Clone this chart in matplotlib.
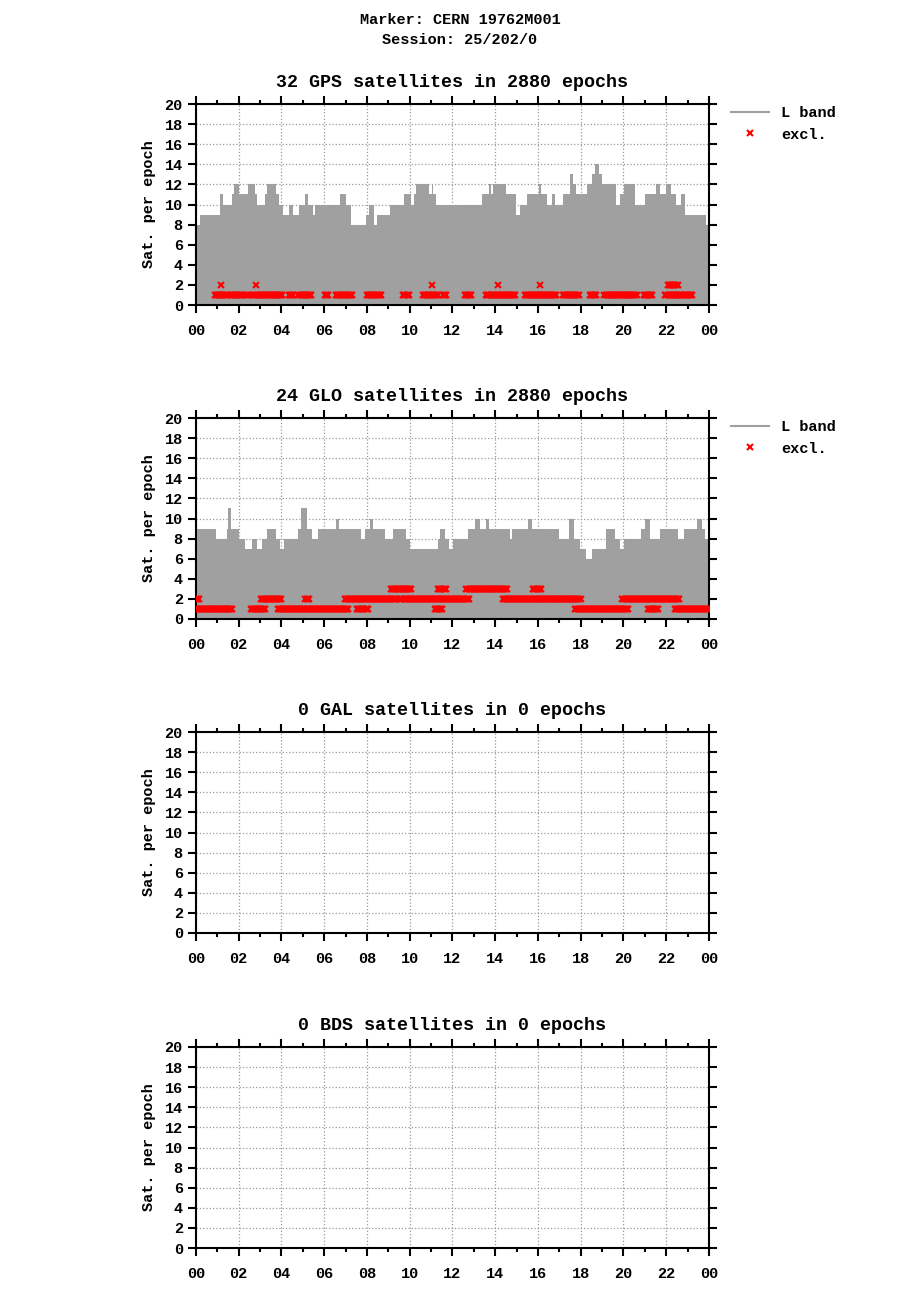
import numpy as np
import matplotlib.pyplot as plt

# GPS: satellites per epoch, step edges (hours) and values
gps_edges = [0, 0.21, 1.14, 1.27, 1.70, 1.79, 2.03, 2.41, 2.77, 2.87, 3.25, 3.31, 3.76, 3.90, 4.09,
             4.33, 4.52, 4.83, 5.12, 5.25, 5.47, 5.55, 6.72, 7.04, 7.26, 7.94, 8.08, 8.35, 8.49,
             9.06, 9.71, 10.06, 10.19, 10.29, 10.89, 11.03, 11.11, 11.22, 13.38, 13.71, 13.79,
             13.91, 14.50, 14.96, 15.15, 15.48, 16.05, 16.12, 16.42, 16.66, 16.80, 17.18, 17.50,
             17.64, 17.78, 18.30, 18.53, 18.67, 18.86, 19.00, 19.65, 19.84, 20.03, 20.55, 21.01,
             21.54, 21.71, 22.00, 22.23, 22.47, 22.71, 22.90, 23.88, 24]
gps_count = [8, 9, 11, 10, 11, 12, 11, 12, 11, 10, 11, 12, 11, 10, 9, 10, 9, 10, 11, 10,
             9, 10, 11, 10, 8, 9, 10, 8, 9, 10, 11, 10, 11, 12, 11, 12, 11, 10, 11, 12,
             11, 12, 11, 9, 10, 11, 12, 11, 10, 11, 10, 11, 13, 12, 11, 12, 13, 14, 13, 12,
             10, 11, 12, 10, 11, 12, 11, 12, 11, 10, 11, 9, 8]
# GPS excluded: (start, end, level)
gps_excl = [(0.87, 1.51, 1), (1.62, 2.17, 1), (2.35, 2.54, 1), (2.69, 4.04, 1), (4.33, 4.55, 1),
            (4.79, 5.39, 1), (6.02, 6.21, 1), (6.55, 7.31, 1), (8.00, 8.67, 1), (9.70, 9.95, 1),
            (10.62, 11.36, 1), (11.54, 11.73, 1), (12.57, 12.87, 1), (13.58, 14.93, 1),
            (15.40, 16.88, 1), (17.15, 17.91, 1), (18.42, 18.73, 1), (19.11, 20.64, 1),
            (20.95, 21.37, 1), (21.96, 23.25, 1),
            (1.19, 1.19, 2), (2.82, 2.82, 2), (11.06, 11.06, 2), (14.14, 14.14, 2),
            (16.09, 16.09, 2), (22.08, 22.54, 2)]

# GLONASS
glo_edges = [0, 0.95, 1.46, 1.52, 1.65, 2.00, 2.27, 2.63, 2.87, 3.11, 3.34, 3.76, 3.95, 4.14,
             4.75, 4.93, 5.17, 5.45, 5.69, 6.53, 6.67, 7.70, 7.89, 8.13, 8.29, 8.83, 9.21, 9.84,
             10.03, 11.32, 11.41, 11.63, 11.82, 12.03, 12.71, 13.04, 13.28, 13.57, 13.71, 14.68,
             14.77, 15.53, 15.72, 16.96, 17.46, 17.70, 17.97, 18.26, 18.53, 19.18, 19.59, 19.84,
             20.03, 20.84, 21.01, 21.25, 21.71, 22.57, 22.81, 23.45, 23.65, 23.79, 24]
glo_count = [9, 8, 9, 11, 9, 8, 7, 8, 7, 8, 9, 8, 7, 8, 9, 11, 9, 8, 9, 10, 9, 8, 9, 10, 9,
             8, 9, 8, 7, 8, 9, 8, 7, 8, 9, 10, 9, 10, 9, 8, 9, 10, 9, 8, 10, 8, 7, 6, 7, 9,
             8, 7, 8, 9, 10, 8, 9, 8, 9, 10, 9, 8]
glo_excl = [(0.0, 1.71, 1), (2.55, 3.26, 1), (3.82, 7.15, 1), (7.53, 8.05, 1), (11.16, 11.51, 1),
            (17.75, 20.21, 1), (21.13, 21.65, 1), (22.39, 24.0, 1),
            (0.0, 0.19, 2), (3.03, 4.01, 2), (5.12, 5.29, 2), (6.97, 9.38, 2), (9.51, 12.80, 2),
            (14.34, 18.01, 2), (19.95, 22.63, 2),
            (9.13, 10.11, 3), (11.33, 11.70, 3), (12.65, 14.56, 3), (15.78, 16.17, 3)]

titles = ['32 GPS satellites in 2880 epochs', '24 GLO satellites in 2880 epochs',
          '0 GAL satellites in 0 epochs', '0 BDS satellites in 0 epochs']
panels = [(gps_edges, gps_count, gps_excl), (glo_edges, glo_count, glo_excl), None, None]
hour_labels = ['00', '02', '04', '06', '08', '10', '12', '14', '16', '18', '20', '22', '00']

plt.rcParams['font.family'] = 'Liberation Mono'
plt.rcParams['font.weight'] = 'bold'
plt.rcParams['font.size'] = 11

fig = plt.figure(figsize=(9.2, 13), dpi=100)
fig.text(0.5, 0.985, 'Marker: CERN 19762M001', ha='center', va='center', fontweight='bold')
fig.text(0.5, 0.969, 'Session: 25/202/0', ha='center', va='center', fontweight='bold')

bottoms = [1 - 305 / 1300, 1 - 619 / 1300, 1 - 933 / 1300, 1 - 1248 / 1300]
for i, bot in enumerate(bottoms):
    ax = fig.add_axes([196 / 920, bot, 513 / 920, 201 / 1300])
    ax.set_xlim(0, 24)
    ax.set_ylim(0, 20)
    ax.set_title(titles[i], fontweight='bold', pad=12)
    if panels[i] is not None:
        edges, count, excl = panels[i]
        ax.stairs(count, edges, fill=True, color='#a0a0a0', zorder=2)
        xs, ys = [], []
        for a, b, lev in excl:
            pts = np.arange(a, b + 0.001, 0.05) if b > a else [a]
            xs.extend(pts)
            ys.extend([lev] * len(pts))
        ax.plot(xs, ys, 'x', color='red', markersize=4, markeredgewidth=1.5, zorder=3)
        ax.plot([], [], color='#a0a0a0', lw=1.5, label='L band')
        ax.plot([], [], 'x', color='red', markersize=4, markeredgewidth=1.5, label='excl.')
        ax.legend(loc='upper left', bbox_to_anchor=(1.03, 1.02), frameon=False,
                  handlelength=2.5, borderaxespad=0)
    ax.set_xticks(range(0, 25, 2))
    ax.set_xticklabels(hour_labels)
    ax.set_xticks(range(0, 25), minor=True)
    ax.set_yticks(range(0, 21, 2))
    ax.grid(True, color='#999999', linestyle=':', linewidth=0.9, zorder=1)
    ax.set_axisbelow(True)
    ax.tick_params(which='both', direction='out', top=True, right=True, width=1.5)
    ax.tick_params(which='major', length=6)
    ax.tick_params(which='minor', length=3)
    ax.tick_params(axis='x', pad=8)
    for s in ax.spines.values():
        s.set_linewidth(1.5)
    ax.set_ylabel('Sat. per epoch', fontweight='bold', labelpad=6)

plt.savefig('out.png', dpi=100)
